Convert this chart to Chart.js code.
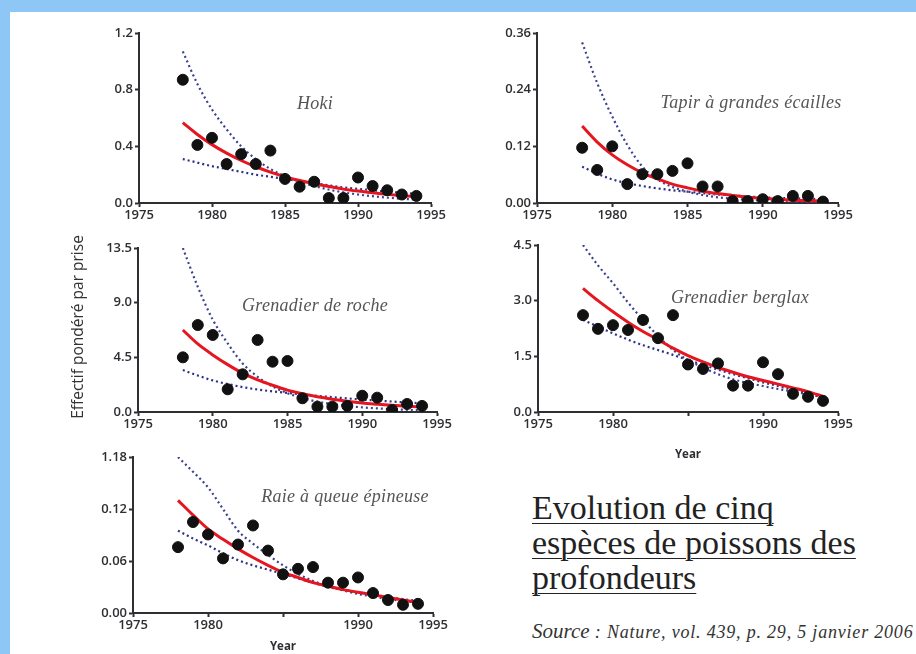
<!DOCTYPE html>
<html>
<head>
<meta charset="utf-8">
<script src="https://cdn.jsdelivr.net/npm/chart.js@4.4.0/dist/chart.umd.min.js"></script>
<style>
  html, body { margin: 0; padding: 0; }
  body { width: 916px; height: 654px; background: #8ec6f5; position: relative; overflow: hidden; }
  #panel { position: absolute; left: 10px; top: 12px; right: 0; bottom: 0; background: #fff; }
  canvas { position: absolute; }
  .species { position: absolute; font-family: 'Liberation Serif', serif; font-style: italic; font-size: 18px; letter-spacing: 0.3px; color: #555; white-space: nowrap; transform: translate(-50%, -50%); }
  #ytitle { position: absolute; left: 77px; top: 327px; transform: translate(-50%, -50%) rotate(-90deg); font-family: 'Open Sans', sans-serif; font-size: 15.5px; color: #333; white-space: nowrap; }
  #bigtitle { position: absolute; left: 532px; top: 490px; font-family: 'Liberation Serif', serif; font-size: 34px; line-height: 35px; color: #222; text-decoration: underline; text-decoration-thickness: 1px; text-underline-offset: 4px; white-space: nowrap; }
  #source { position: absolute; left: 532px; top: 619px; font-family: 'Liberation Serif', serif; font-style: italic; color: #333; white-space: nowrap; }
</style>
</head>
<body>
<div id="panel"></div>
<canvas id="c1" width="372" height="215"></canvas>
<canvas id="c2" width="380" height="215"></canvas>
<canvas id="c3" width="372" height="205"></canvas>
<canvas id="c4" width="380" height="232"></canvas>
<canvas id="c5" width="378" height="212"></canvas>

<div class="species" style="left:315px;top:103px">Hoki</div>
<div class="species" style="left:751px;top:102px">Tapir à grandes écailles</div>
<div class="species" style="left:315px;top:305px">Grenadier de roche</div>
<div class="species" style="left:740px;top:297px">Grenadier berglax</div>
<div class="species" style="left:345px;top:496px">Raie à queue épineuse</div>
<div id="ytitle">Effectif pondéré par prise</div>
<div id="bigtitle">Evolution de cinq<br>espèces de poissons des<br>profondeurs</div>
<div id="source"><span style="font-size:21px">Source</span><span style="font-size:18px; letter-spacing:0.8px"> : Nature, vol. 439, p. 29, 5 janvier 2006</span></div>

<script>
// years of observation
var years = [1978, 1979, 1980, 1981, 1982, 1983, 1984, 1985, 1986, 1987, 1988, 1989, 1990, 1991, 1992, 1993, 1994];
var xTickValues = [1975, 1980, 1985, 1990, 1995];
var xTickLabels = ['1975', '1980', '1985', '1990', '1995'];
var xTickLabelsShort = ['1975', '1980', '', '1990', '1995'];

// Hoki
var hokiPoints = [0.87, 0.41, 0.46, 0.275, 0.345, 0.275, 0.37, 0.17, 0.115, 0.15, 0.035, 0.035, 0.18, 0.12, 0.09, 0.06, 0.05];
var hokiFit = [0.567, 0.484, 0.412, 0.352, 0.300, 0.256, 0.218, 0.186, 0.159, 0.136, 0.116, 0.098, 0.084, 0.072, 0.061, 0.052, 0.045];
var hokiUpper = [1.07, 0.84, 0.66, 0.52, 0.40, 0.31, 0.24, 0.19, 0.15, 0.12, 0.095, 0.075, 0.06, 0.048, 0.038, 0.03, 0.024];
var hokiLower = [0.31, 0.285, 0.26, 0.24, 0.22, 0.20, 0.185, 0.17, 0.155, 0.14, 0.125, 0.11, 0.10, 0.09, 0.08, 0.072, 0.065];
var hokiTicks = [0, 0.4, 0.8, 1.2];
var hokiLabels = ['0.0', '0.4', '0.8', '1.2'];

// Tapir à grandes écailles
var tapirPoints = [0.117, 0.07, 0.12, 0.04, 0.061, 0.061, 0.068, 0.084, 0.035, 0.035, 0.004, 0.004, 0.008, 0.004, 0.015, 0.015, 0.003];
var tapirFit = [0.163, 0.129, 0.102, 0.081, 0.064, 0.051, 0.040, 0.032, 0.025, 0.020, 0.016, 0.012, 0.010, 0.008, 0.006, 0.005, 0.004];
var tapirUpper = [0.34, 0.254, 0.183, 0.123, 0.077, 0.05, 0.034, 0.024, 0.017, 0.012, 0.009, 0.007, 0.005, 0.004, 0.003, 0.002, 0.002];
var tapirLower = [0.077, 0.062, 0.05, 0.042, 0.036, 0.031, 0.027, 0.024, 0.021, 0.018, 0.016, 0.014, 0.012, 0.011, 0.01, 0.009, 0.008];
var tapirTicks = [0, 0.12, 0.24, 0.36];
var tapirLabels = ['0.00', '0.12', '0.24', '0.36'];

// Grenadier de roche
var rochePoints = [4.5, 7.16, 6.34, 1.87, 3.1, 5.93, 4.14, 4.2, 1.13, 0.44, 0.44, 0.5, 1.34, 1.18, 0.16, 0.66, 0.5];
var rocheFit = [6.75, 5.6, 4.7, 3.9, 3.2, 2.65, 2.2, 1.8, 1.5, 1.25, 1.05, 0.88, 0.74, 0.64, 0.55, 0.48, 0.42];
var rocheUpper = [13.5, 10.3, 7.6, 5.65, 4.0, 2.9, 2.1, 1.55, 1.15, 0.85, 0.65, 0.5, 0.38, 0.3, 0.23, 0.18, 0.14];
var rocheLower = [3.45, 3.0, 2.6, 2.3, 2.05, 1.85, 1.7, 1.57, 1.45, 1.33, 1.22, 1.12, 1.02, 0.94, 0.86, 0.78, 0.72];
var rocheTicks = [0, 4.5, 9, 13.5];
var rocheLabels = ['0.0', '4.5', '9.0', '13.5'];

// Grenadier berglax
var berglaxPoints = [2.61, 2.24, 2.34, 2.21, 2.48, 1.99, 2.61, 1.28, 1.16, 1.31, 0.71, 0.71, 1.34, 1.02, 0.49, 0.41, 0.30];
var berglaxFit = [3.33, 3.0, 2.7, 2.42, 2.17, 1.95, 1.72, 1.52, 1.35, 1.2, 1.07, 0.95, 0.85, 0.75, 0.65, 0.55, 0.42];
var berglaxUpper = [4.5, 3.95, 3.47, 2.95, 2.48, 2.05, 1.67, 1.4, 1.2, 1.02, 0.88, 0.78, 0.7, 0.62, 0.55, 0.48, 0.42];
var berglaxLower = [2.48, 2.3, 2.12, 1.95, 1.8, 1.67, 1.54, 1.4, 1.27, 1.14, 1.02, 0.91, 0.8, 0.7, 0.6, 0.5, 0.38];
var berglaxTicks = [0, 1.5, 3, 4.5];
var berglaxLabels = ['0.0', '1.5', '3.0', '4.5'];

// Raie à queue épineuse (top label printed as 1.18 in the source)
var raiePoints = [0.076, 0.105, 0.0906, 0.063, 0.079, 0.101, 0.072, 0.0446, 0.051, 0.053, 0.035, 0.035, 0.041, 0.023, 0.015, 0.0095, 0.0106];
var raieFit = [0.13, 0.113, 0.097, 0.085, 0.074, 0.064, 0.055, 0.047, 0.041, 0.035, 0.031, 0.027, 0.024, 0.021, 0.018, 0.015, 0.012];
var raieUpper = [0.18, 0.163, 0.145, 0.12, 0.095, 0.08, 0.067, 0.055, 0.045, 0.037, 0.031, 0.026, 0.022, 0.019, 0.016, 0.014, 0.012];
var raieLower = [0.095, 0.086, 0.078, 0.069, 0.061, 0.055, 0.05, 0.045, 0.04, 0.035, 0.03, 0.027, 0.024, 0.021, 0.018, 0.016, 0.014];
var raieTicks = [0, 0.06, 0.12, 0.18];
var raieLabels = ['0.00', '0.06', '0.12', '1.18'];

var panels = [
    { id: 'c1', box: { l: 88, t: 18, w: 372, h: 215 }, area: { l: 139, t: 33, r: 431, b: 203 },
      points: hokiPoints, fit: hokiFit, upper: hokiUpper, lower: hokiLower, yTicks: hokiTicks, yLabels: hokiLabels, xLabels: xTickLabels, xTitle: '' },
    { id: 'c2', box: { l: 486, t: 18, w: 380, h: 215 }, area: { l: 537, t: 33, r: 838, b: 203 },
      points: tapirPoints, fit: tapirFit, upper: tapirUpper, lower: tapirLower, yTicks: tapirTicks, yLabels: tapirLabels, xLabels: xTickLabels, xTitle: '' },
    { id: 'c3', box: { l: 88, t: 232, w: 372, h: 205 }, area: { l: 138, t: 248, r: 437, b: 412 },
      points: rochePoints, fit: rocheFit, upper: rocheUpper, lower: rocheLower, yTicks: rocheTicks, yLabels: rocheLabels, xLabels: xTickLabels, xTitle: '' },
    { id: 'c4', box: { l: 486, t: 230, w: 380, h: 232 }, area: { l: 538, t: 245, r: 838, b: 412 },
      points: berglaxPoints, fit: berglaxFit, upper: berglaxUpper, lower: berglaxLower, yTicks: berglaxTicks, yLabels: berglaxLabels, xLabels: xTickLabelsShort, xTitle: 'Year' },
    { id: 'c5', box: { l: 82, t: 442, w: 378, h: 212 }, area: { l: 133, t: 457, r: 433, b: 613 },
      points: raiePoints, fit: raieFit, upper: raieUpper, lower: raieLower, yTicks: raieTicks, yLabels: raieLabels, xLabels: xTickLabelsShort, xTitle: 'Year' }
];

var axisColor = '#2e2e33';
var tickFont = { family: 'Open Sans', size: 13, weight: '600' };

function toXY(values) {
    return values.map(function(v, i) { return { x: years[i], y: v }; });
}

function curve(values, color, width, dash) {
    return {
        data: toXY(values),
        showLine: true,
        pointRadius: 0,
        borderColor: color,
        borderWidth: width,
        borderDash: dash,
        cubicInterpolationMode: 'monotone',
        fill: false
    };
}

function makeChart(p) {
    var canvas = document.getElementById(p.id);
    canvas.style.left = p.box.l + 'px';
    canvas.style.top = p.box.t + 'px';

    var yWidth = p.area.l - p.box.l;
    var xHeight = p.box.t + p.box.h - p.area.b;

    new Chart(canvas.getContext('2d'), {
        type: 'scatter',
        data: {
            datasets: [
                { data: toXY(p.points), pointRadius: 5.5, pointBackgroundColor: '#111', pointBorderColor: '#111', showLine: false },
                curve(p.fit, '#e5161f', 3, []),
                curve(p.upper, '#3a4290', 2.2, [2, 3]),
                curve(p.lower, '#2a3186', 2.2, [2, 3])
            ]
        },
        options: {
            responsive: false,
            animation: false,
            layout: { padding: { top: p.area.t - p.box.t, right: p.box.l + p.box.w - p.area.r, left: 0, bottom: 0 } },
            plugins: { legend: { display: false }, tooltip: { enabled: false } },
            scales: {
                x: {
                    type: 'linear',
                    min: 1975,
                    max: 1995,
                    afterBuildTicks: function(s) { s.ticks = xTickValues.map(function(v) { return { value: v }; }); },
                    afterFit: function(s) { s.height = xHeight; },
                    ticks: {
                        autoSkip: false, maxRotation: 0, padding: 0, color: axisColor, font: tickFont,
                        callback: function(v, i) { return p.xLabels[i]; }
                    },
                    grid: { drawOnChartArea: false, tickLength: 4, tickColor: axisColor, tickWidth: 2 },
                    border: { color: axisColor, width: 2 },
                    title: { display: p.xTitle !== '', text: p.xTitle, color: axisColor, font: { family: 'Open Sans', size: 11.5, weight: '700' }, padding: { top: 6, bottom: 0 } }
                },
                y: {
                    min: 0,
                    max: p.yTicks[p.yTicks.length - 1],
                    afterBuildTicks: function(s) { s.ticks = p.yTicks.map(function(v) { return { value: v }; }); },
                    afterFit: function(s) { s.width = yWidth; },
                    ticks: {
                        padding: 2, color: axisColor, font: tickFont,
                        callback: function(v, i) { return p.yLabels[i]; }
                    },
                    grid: { drawOnChartArea: false, tickLength: 4, tickColor: axisColor, tickWidth: 2 },
                    border: { color: axisColor, width: 2 }
                }
            }
        }
    });
}

document.addEventListener('DOMContentLoaded', function() {
    panels.forEach(makeChart);
});
</script>
</body>
</html>
